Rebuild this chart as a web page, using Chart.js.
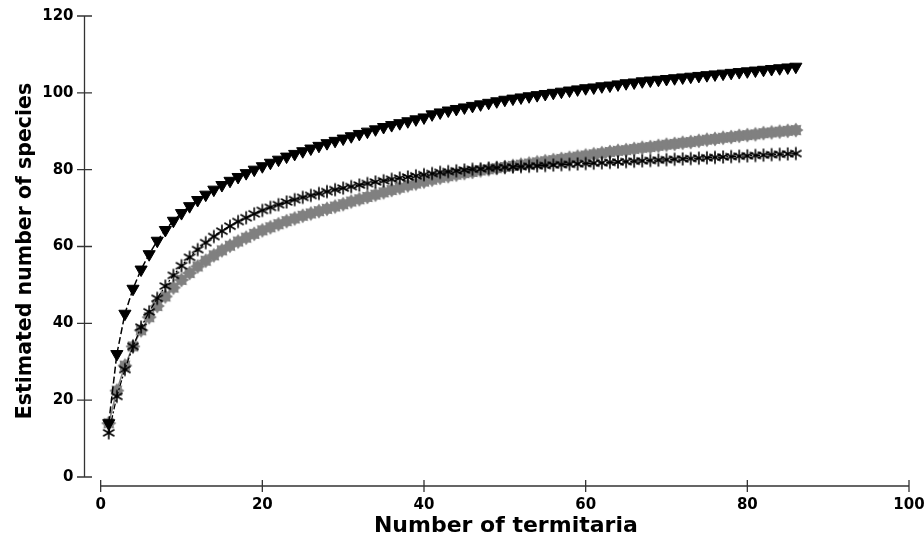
<!DOCTYPE html>
<html>
<head>
<meta charset="utf-8">
<script src="https://cdn.jsdelivr.net/npm/chart.js@4.4.0/dist/chart.umd.min.js"></script>
<style>
  body { margin: 0; background: #fff; }
  #speciesChart { display: block; }
</style>
</head>
<body>
<canvas id="speciesChart" width="924" height="541"></canvas>
<script>
const termitaria = [
  1, 2, 3, 4, 5, 6, 7, 8, 9, 10,
  11, 12, 13, 14, 15, 16, 17, 18, 19, 20,
  21, 22, 23, 24, 25, 26, 27, 28, 29, 30,
  31, 32, 33, 34, 35, 36, 37, 38, 39, 40,
  41, 42, 43, 44, 45, 46, 47, 48, 49, 50,
  51, 52, 53, 54, 55, 56, 57, 58, 59, 60,
  61, 62, 63, 64, 65, 66, 67, 68, 69, 70,
  71, 72, 73, 74, 75, 76, 77, 78, 79, 80,
  81, 82, 83, 84, 85, 86
];

// filled down triangles, dashed line
const speciesTriangle = [
  14, 32, 42.5, 49, 54, 58, 61.5, 64.3, 66.7, 68.7,
  70.5, 72.1, 73.5, 74.8, 76, 77.1, 78.1, 79.1, 80, 80.9,
  81.8, 82.6, 83.4, 84.1, 84.8, 85.5, 86.2, 86.9, 87.5, 88.1,
  88.7, 89.3, 89.9, 90.5, 91.1, 91.6, 92.1, 92.6, 93.1, 93.6,
  94.4, 94.9, 95.4, 95.8, 96.2, 96.6, 97, 97.4, 97.8, 98.2,
  98.5, 98.8, 99.1, 99.4, 99.7, 100, 100.3, 100.6, 100.9, 101.2,
  101.4, 101.7, 101.9, 102.2, 102.5, 102.7, 103, 103.2, 103.4, 103.6,
  103.8, 104, 104.2, 104.4, 104.6, 104.8, 105, 105.2, 105.4, 105.6,
  105.8, 106, 106.2, 106.4, 106.6, 106.8
];

// black asterisks
const speciesAsterisk = [
  11.5, 21, 28, 34, 39, 43, 46.5, 49.7, 52.5, 55,
  57.2, 59.2, 61, 62.6, 64, 65.3, 66.5, 67.5, 68.5, 69.4,
  70.2, 70.9, 71.6, 72.2, 72.8, 73.3, 73.8, 74.3, 74.8, 75.2,
  75.6, 76, 76.4, 76.8, 77.1, 77.5, 77.8, 78.1, 78.4, 78.7,
  79, 79.3, 79.5, 79.7, 79.9, 80.1, 80.2, 80.4, 80.5, 80.6,
  80.7, 80.8, 80.9, 81, 81.1, 81.2, 81.3, 81.4, 81.5, 81.6,
  81.7, 81.8, 81.9, 82, 82.1, 82.2, 82.3, 82.4, 82.5, 82.6,
  82.7, 82.8, 82.9, 83, 83.1, 83.2, 83.3, 83.4, 83.5, 83.6,
  83.7, 83.8, 83.9, 84, 84.1, 84.2
];

// grey stars
const speciesStar = [
  14, 22.5, 29, 34, 38.2, 41.6, 44.5, 47, 49.3, 51.3,
  53.1, 54.8, 56.3, 57.7, 59, 60.2, 61.3, 62.3, 63.3, 64.2,
  65, 65.8, 66.6, 67.3, 68, 68.6, 69.2, 69.8, 70.4, 71,
  71.7, 72.3, 72.9, 73.5, 74.1, 74.7, 75.3, 75.9, 76.4, 76.9,
  77.4, 77.9, 78.3, 78.7, 79.1, 79.4, 79.8, 80.1, 80.4, 80.7,
  81, 81.3, 81.6, 81.9, 82.2, 82.5, 82.8, 83.1, 83.4, 83.7,
  84, 84.3, 84.6, 84.9, 85.1, 85.4, 85.7, 85.9, 86.2, 86.5,
  86.7, 87, 87.2, 87.5, 87.8, 88, 88.3, 88.5, 88.8, 89,
  89.2, 89.5, 89.7, 89.9, 90.1, 90.3
];

const xTicks = [0, 20, 40, 60, 80, 100];
const yTicks = [0, 20, 40, 60, 80, 100, 120];
const xTitle = "Number of termitaria";
const yTitle = "Estimated number of species";

const AXIS_COLOR = "#333";
const FONT = '"DejaVu Sans", sans-serif';

function pairs(ys) {
  return termitaria.map((x, i) => ({ x: x, y: ys[i] }));
}

// 6 spoke asterisk marker
function makeAsterisk() {
  const c = document.createElement("canvas");
  c.width = 16; c.height = 16;
  const g = c.getContext("2d");
  g.strokeStyle = "#000";
  g.lineWidth = 1.6;
  g.translate(8, 8);
  for (let k = 0; k < 3; k++) {
    const a = Math.PI / 2 + k * Math.PI / 3;
    g.beginPath();
    g.moveTo(Math.cos(a) * 6.5, Math.sin(a) * 6.5);
    g.lineTo(-Math.cos(a) * 6.5, -Math.sin(a) * 6.5);
    g.stroke();
  }
  return c;
}

// filled grey 8 point star marker
function makeGreyStar() {
  const c = document.createElement("canvas");
  c.width = 18; c.height = 18;
  const g = c.getContext("2d");
  g.fillStyle = "#808080";
  g.translate(9, 9);
  g.beginPath();
  for (let k = 0; k < 16; k++) {
    const r = k % 2 === 0 ? 7.6 : 5.2;
    const a = k * Math.PI / 8 - Math.PI / 2;
    if (k === 0) g.moveTo(Math.cos(a) * r, Math.sin(a) * r);
    else g.lineTo(Math.cos(a) * r, Math.sin(a) * r);
  }
  g.closePath();
  g.fill();
  return c;
}

// SigmaPlot style detached axes, ticks crossing the line
const splitAxes = {
  id: "splitAxes",
  beforeDatasetsDraw(chart) {
    const { ctx, chartArea, scales } = chart;
    const x = scales.x, y = scales.y;
    const ax = chartArea.left;
    const ay = chartArea.bottom;
    ctx.save();
    ctx.strokeStyle = AXIS_COLOR;
    ctx.lineWidth = 1.3;

    const yTop = y.getPixelForValue(yTicks[yTicks.length - 1]);
    const yBot = y.getPixelForValue(yTicks[0]);
    ctx.beginPath();
    ctx.moveTo(ax, yTop);
    ctx.lineTo(ax, yBot);
    yTicks.forEach(v => {
      const p = y.getPixelForValue(v);
      ctx.moveTo(ax - 7.5, p);
      ctx.lineTo(ax + 7.5, p);
    });
    ctx.stroke();

    const xL = x.getPixelForValue(xTicks[0]);
    const xR = x.getPixelForValue(xTicks[xTicks.length - 1]);
    ctx.beginPath();
    ctx.moveTo(xL, ay);
    ctx.lineTo(xR, ay);
    xTicks.forEach(v => {
      const p = x.getPixelForValue(v);
      ctx.moveTo(p, ay - 6);
      ctx.lineTo(p, ay + 6);
    });
    ctx.stroke();
    ctx.restore();
  },
  afterDraw(chart) {
    const { ctx, chartArea, scales } = chart;
    const x = scales.x;
    const mid = (x.getPixelForValue(xTicks[0]) + x.getPixelForValue(xTicks[xTicks.length - 1])) / 2;
    ctx.save();
    ctx.fillStyle = "#000";
    ctx.font = "bold 22px " + FONT;
    ctx.textAlign = "center";
    ctx.textBaseline = "alphabetic";
    ctx.fillText(xTitle, mid + 1, chartArea.bottom + 46);
    ctx.restore();
  }
};

const ctx = document.getElementById("speciesChart").getContext("2d");
const chart = new Chart(ctx, {
  type: "line",
  data: {
    datasets: [
      {
        label: "Triangles",
        data: pairs(speciesTriangle),
        borderColor: "#000",
        borderWidth: 1.5,
        borderDash: [7, 3],
        backgroundColor: "#000",
        pointStyle: "triangle",
        pointRotation: 180,
        pointRadius: 7,
        pointBorderWidth: 1,
        pointBorderColor: "#000",
        pointBackgroundColor: "#000",
        fill: false,
        tension: 0
      },
      {
        label: "Asterisks",
        data: pairs(speciesAsterisk),
        borderColor: "#000",
        borderWidth: 1.3,
        borderDash: [6, 2, 2, 2],
        pointStyle: makeAsterisk(),
        pointRadius: 6,
        fill: false,
        tension: 0
      },
      {
        label: "Stars",
        data: pairs(speciesStar),
        borderColor: "#808080",
        borderWidth: 1.5,
        pointStyle: makeGreyStar(),
        pointRadius: 7,
        fill: false,
        tension: 0
      }
    ]
  },
  options: {
    responsive: false,
    animation: false,
    devicePixelRatio: 1,
    layout: { padding: { top: 16, right: 15, left: 0, bottom: 0 } },
    plugins: {
      legend: { display: false },
      tooltip: { enabled: false }
    },
    scales: {
      x: {
        type: "linear",
        min: -2,
        max: 100,
        grid: { display: false, drawTicks: false },
        border: { display: false },
        afterBuildTicks: s => { s.ticks = xTicks.map(v => ({ value: v })); },
        afterFit: s => { s.height = 55; s.paddingLeft = 0; s.paddingRight = 0; },
        ticks: {
          autoSkip: false,
          maxRotation: 0,
          padding: 10,
          color: "#000",
          font: { family: FONT, size: 15, weight: "bold" }
        }
      },
      y: {
        type: "linear",
        min: -2.34,
        max: 120,
        grid: { display: false, drawTicks: false },
        border: { display: false },
        afterBuildTicks: s => { s.ticks = yTicks.map(v => ({ value: v })); },
        afterFit: s => { s.width = 84.5; s.paddingTop = 0; s.paddingBottom = 0; },
        title: {
          display: true,
          text: yTitle,
          color: "#000",
          font: { family: FONT, size: 20.5, weight: "bold" },
          padding: { top: 13, bottom: 0 }
        },
        ticks: {
          autoSkip: false,
          padding: 11,
          color: "#000",
          font: { family: FONT, size: 15, weight: "bold" }
        }
      }
    }
  },
  plugins: [splitAxes]
});
</script>
</body>
</html>
